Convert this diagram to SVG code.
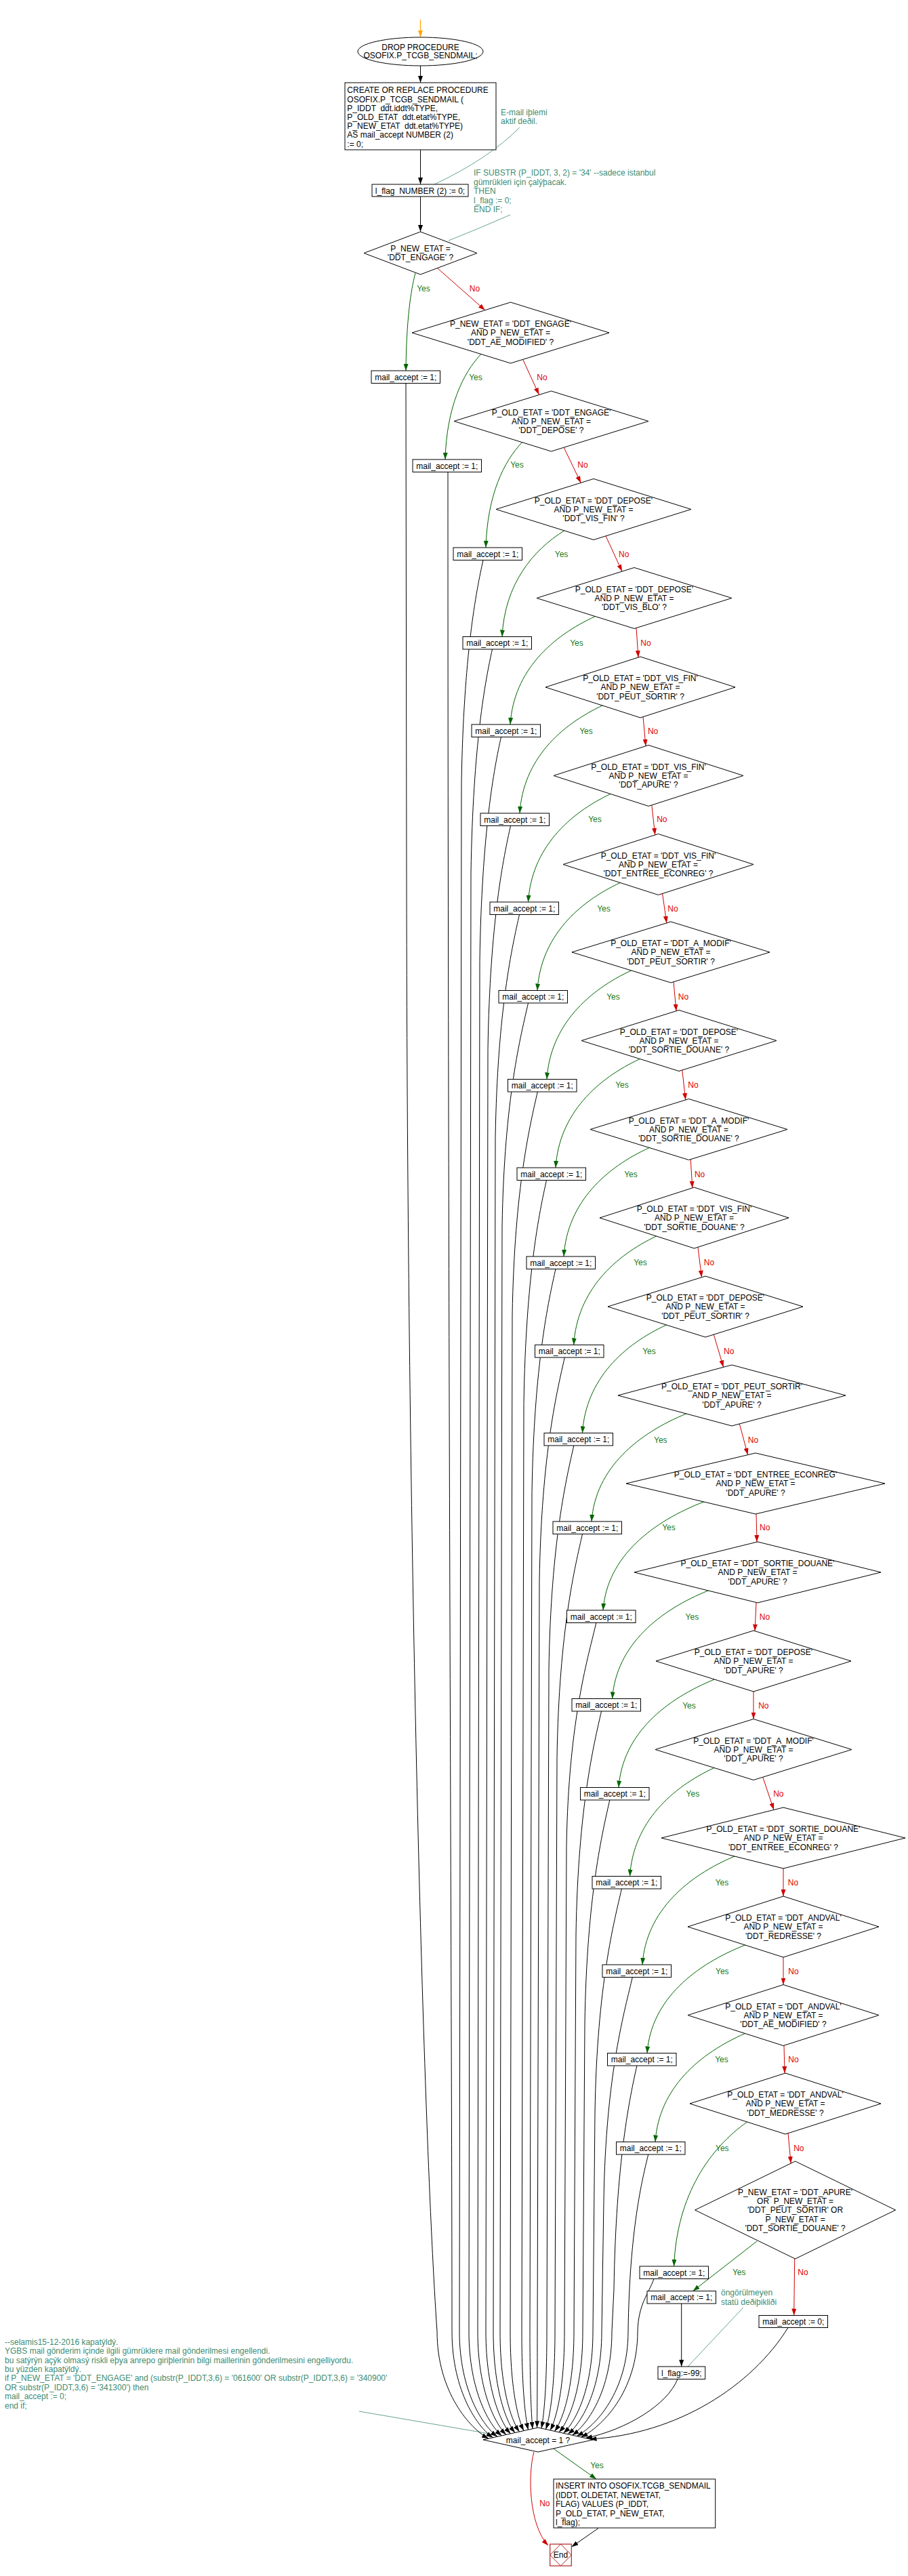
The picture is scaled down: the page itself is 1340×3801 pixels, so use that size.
<svg xmlns="http://www.w3.org/2000/svg" width="1340" height="3801" viewBox="0 0 1340 3801">
<defs>
<style>
.t{font-family:"Liberation Sans",Arial,sans-serif;font-size:12px;fill:#000}
.m{text-anchor:middle}
.c{font-family:"Liberation Sans",Arial,sans-serif;font-size:12px;fill:#408c70}
.n{fill:#fff;stroke:#000;stroke-width:1}
.e{fill:none;stroke:#000;stroke-width:1}
.y{fill:none;stroke:#006400;stroke-width:1}
.r{fill:none;stroke:#d00000;stroke-width:1}
.cl{fill:none;stroke:#408c70;stroke-width:0.8}
.yt{font-family:"Liberation Sans",Arial,sans-serif;font-size:12px;fill:#1a7a1a;text-anchor:middle}
.rt{font-family:"Liberation Sans",Arial,sans-serif;font-size:12px;fill:#e00000;text-anchor:middle}
</style>
<marker id="ab" markerUnits="userSpaceOnUse" markerWidth="10" markerHeight="7" refX="10" refY="3.5" orient="auto"><path d="M0,0 L10,3.5 L0,7 z" fill="#000"/></marker>
<marker id="ag" markerUnits="userSpaceOnUse" markerWidth="10" markerHeight="7" refX="10" refY="3.5" orient="auto"><path d="M0,0 L10,3.5 L0,7 z" fill="#006400"/></marker>
<marker id="ar" markerUnits="userSpaceOnUse" markerWidth="10" markerHeight="7" refX="10" refY="3.5" orient="auto"><path d="M0,0 L10,3.5 L0,7 z" fill="#d00000"/></marker>
<marker id="ao" markerUnits="userSpaceOnUse" markerWidth="10" markerHeight="7" refX="10" refY="3.5" orient="auto"><path d="M0,0 L10,3.5 L0,7 z" fill="#ffa500"/></marker>
</defs>
<rect width="1340" height="3801" fill="#fff"/>

<g id="connectors">
<path d="M620.5,29 L620.5,55" fill="none" stroke="#ffa500" stroke-width="1.2" marker-end="url(#ao)"/>
<path class="e" d="M620.5,97 L620.5,122" marker-end="url(#ab)"/>
<path class="e" d="M620.5,221 L620.5,272" marker-end="url(#ab)"/>
<path class="e" d="M620.5,290 L620.5,342" marker-end="url(#ab)"/>
<path class="cl" d="M767,188 Q720,235 641,272"/>
<path class="cl" d="M753,317 Q710,336 662,355"/>
<path class="cl" d="M530,3558 L720,3590.7"/>
<path class="cl" d="M1096.7,3405 L1015,3492"/>
<g marker-end="url(#ag)">
<path class="y" d="M613,403 C606,428.9 599.6,475 599,547"/>
<path class="y" d="M709.9,522.5 C683.4,550.5 659.1,600.3 657,678"/>
<path class="y" d="M770.5,652.7 C743.7,680.6 719.1,730.3 717,808"/>
<path class="y" d="M832.8,783 C786.9,811.3 744.7,861.5 741,939.5"/>
<path class="y" d="M878.4,909.5 C815.7,938.2 758,989.3 753,1069"/>
<path class="y" d="M889,1041 C828,1069.6 771.9,1120.5 767,1200"/>
<path class="y" d="M901,1171.5 C840.3,1200.2 784.4,1251.3 779.5,1331"/>
<path class="y" d="M915.3,1302.5 C854.2,1331 797.9,1381.8 793,1461.5"/>
<path class="y" d="M931.6,1432 C869.3,1460.9 812,1512.3 807,1592.5"/>
<path class="y" d="M944.4,1562.5 C882.2,1591.4 825,1642.8 820,1723"/>
<path class="y" d="M958.3,1693.5 C895.2,1722.3 837,1773.6 832,1854"/>
<path class="y" d="M968.7,1824 C907.7,1852.9 851.6,1904.3 846.7,1984.5"/>
<path class="y" d="M983.4,1955 C921.5,1983.6 864.5,2034.5 859.5,2114.5"/>
<path class="y" d="M1012.8,2086 C942.9,2114.6 878.6,2165.5 873,2245"/>
<path class="y" d="M1038.6,2216 C964.3,2244.8 895.9,2296 890,2376"/>
<path class="y" d="M1045.2,2347 C974.4,2375.6 909.3,2426.5 903.6,2506.5"/>
<path class="y" d="M1054.4,2478 C983.7,2506.7 918.7,2557.8 913,2637.5"/>
<path class="y" d="M1054,2608.5 C991.8,2637.4 934.5,2688.8 929.5,2768.5"/>
<path class="y" d="M1084,2739 C1016,2767.8 953.4,2819 948,2899"/>
<path class="y" d="M1099.6,2870 C1027.3,2898.6 960.8,2949.5 955,3029.5"/>
<path class="y" d="M1099.6,3000.5 C1033.3,3029.3 972.3,3080.6 967,3160.5"/>
<path class="y" d="M1102.6,3131 C1048.6,3169.3 998.9,3237.5 994.6,3344"/>
<path class="y" d="M1117,3307 L1022.7,3380.5"/>
<path class="y" d="M816.7,3613 L880,3658"/>
</g>
<g marker-end="url(#ar)">
<path class="r" d="M645.5,395.6 L715.8,457.7"/>
<path class="r" d="M771.6,530.4 L795.4,582.2"/>
<path class="r" d="M832.3,660.6 L857.2,712.4"/>
<path class="r" d="M894,790.9 L918,843.1"/>
<path class="r" d="M939,926.6 L942,970"/>
<path class="r" d="M949,1057.7 L953,1100.8"/>
<path class="r" d="M961.8,1188 L966.7,1232"/>
<path class="r" d="M977.6,1318.5 L983.8,1361.9"/>
<path class="r" d="M994,1448.8 L998,1491.8"/>
<path class="r" d="M1006.8,1579 L1011.7,1623"/>
<path class="r" d="M1019.2,1710.7 L1021.8,1752.9"/>
<path class="r" d="M1029.9,1840.2 L1035.5,1884.7"/>
<path class="r" d="M1053.3,1969.2 L1067.6,2017.3"/>
<path class="r" d="M1091.3,2101 L1103.6,2146.7"/>
<path class="r" d="M1116,2233.8 L1117,2275.2"/>
<path class="r" d="M1116,2364.5 L1114,2406.6"/>
<path class="r" d="M1112,2496 L1112,2536.5"/>
<path class="r" d="M1125.7,2622.2 L1142,2670.5"/>
<path class="r" d="M1156,2757 L1156,2798"/>
<path class="r" d="M1156,2888 L1156,2928.5"/>
<path class="r" d="M1157,3018.5 L1158,3059"/>
<path class="r" d="M1163,3147.7 L1167.2,3192.1"/>
<path class="r" d="M1172.7,3333 L1171.7,3416.5"/>
<path class="r" d="M788,3618 C779,3650 780,3725 809,3756"/>
</g>
<g marker-end="url(#ab)">
<path class="e" d="M599,565.5 L600,1300 C601,2300 625,3150 645,3440 C645,3530 694.4,3584.2 721,3598.2"/>
<path class="e" d="M661,696.5 C661,2000 667,3000 667,3440 C667,3530 706.3,3582.8 727.5,3596.8"/>
<path class="e" d="M713,826.5 C703,871.5 684,966.5 681,1156.5 L678,3440 C678,3530 714.4,3581.3 734,3595.3"/>
<path class="e" d="M726.5,958 C716.5,1003 698,1098 695,1288 L692,3440 C692,3530 723.5,3579.9 740.5,3593.9"/>
<path class="e" d="M739.5,1087.5 C729.5,1132.5 711,1227.5 708,1417.5 L705,3440 C705,3530 732.3,3578.4 747,3592.4"/>
<path class="e" d="M753.5,1218.5 C743.5,1263.5 723,1358.5 720,1548.5 L717,3440 C717,3530 740.7,3577 753.5,3591"/>
<path class="e" d="M766.5,1349.5 C756.5,1394.5 734,1489.5 731,1679.5 L728,3440 C728,3530 748.8,3575.6 760,3589.6"/>
<path class="e" d="M779.5,1480 C769.5,1525 744,1620 741,1810 L738,3440 C738,3530 756.5,3574.1 766.5,3588.1"/>
<path class="e" d="M793.3,1611 C783.3,1656 759,1751 756,1941 L753,3440 C753,3530 766,3572.7 773,3586.7"/>
<path class="e" d="M806.5,1741.5 C796.5,1786.5 776,1881.5 773,2071.5 L770,3440 C770,3530 776.2,3571.2 779.5,3585.2"/>
<path class="e" d="M820,1872.5 C810,1917.5 788,2012.5 785,2202.5 L782,3440 C782,3530 784.6,3569.8 786,3583.8"/>
<path class="e" d="M833.3,2003 C823.3,2048 799,2143 796,2333 L793,3440 C793,3530 792.7,3568.3 792.5,3582.3"/>
<path class="e" d="M846.8,2133 C836.8,2178 813,2273 810,2463 L807,3440 C807,3530 801.8,3569.1 799,3583.1"/>
<path class="e" d="M859.5,2263.5 C849.5,2308.5 825,2403.5 822,2593.5 L819,3440 C819,3530 810.2,3570.5 805.5,3584.5"/>
<path class="e" d="M879.8,2394.5 C869.8,2439.5 839,2534.5 836,2724.5 L833,3440 C833,3530 819.4,3572 812,3586"/>
<path class="e" d="M887.5,2525 C877.5,2570 853,2665 850,2855 L847,3440 C847,3530 828.5,3573.4 818.5,3587.4"/>
<path class="e" d="M899.8,2656 C889.8,2701 866,2796 863,2986 L860,3440 C860,3530 837.3,3574.9 825,3588.9"/>
<path class="e" d="M917.4,2787 C907.4,2832 881,2927 878,3117 L875,3440 C875,3530 846.7,3576.3 831.5,3590.3"/>
<path class="e" d="M933.3,2917.5 C923.3,2962.5 894,3057.5 891,3247.5 L888,3440 C888,3530 855.5,3577.8 838,3591.8"/>
<path class="e" d="M939.9,3048 C929.9,3093 909,3188 906,3378 L903,3440 C903,3530 865,3579.2 844.5,3593.2"/>
<path class="e" d="M956.7,3179 C948,3215 929,3290 927,3440 C927,3530 877.6,3580.7 851,3594.7"/>
<path class="e" d="M965,3362.5 C957,3385 942,3400 941,3440 C941,3530 886.7,3582.1 857.5,3596.1"/>
<path class="e" d="M1000,3510.5 C985,3548 925,3585 864,3597.6"/>
<path class="e" d="M1163,3434.5 C1110,3520 1000,3592 870.5,3599"/>
<path class="e" d="M1005.7,3399 L1005.7,3492"/>
<path class="e" d="M883,3730.5 L843.5,3758"/>
</g>
<text class="yt" x="625" y="430.3">Yes</text><text class="rt" x="700.5" y="430.3">No</text>
<text class="yt" x="702" y="561.3">Yes</text><text class="rt" x="800" y="561.3">No</text>
<text class="yt" x="763" y="690.3">Yes</text><text class="rt" x="860" y="690.3">No</text>
<text class="yt" x="828.6" y="821.9">Yes</text><text class="rt" x="920.7" y="821.9">No</text>
<text class="yt" x="851" y="952.8">Yes</text><text class="rt" x="953" y="952.8">No</text>
<text class="yt" x="865" y="1083.3">Yes</text><text class="rt" x="963.6" y="1083.3">No</text>
<text class="yt" x="878" y="1213.3">Yes</text><text class="rt" x="976.8" y="1213.3">No</text>
<text class="yt" x="891" y="1345">Yes</text><text class="rt" x="993" y="1345">No</text>
<text class="yt" x="905" y="1475">Yes</text><text class="rt" x="1008.5" y="1475">No</text>
<text class="yt" x="918" y="1605.3">Yes</text><text class="rt" x="1023" y="1605.3">No</text>
<text class="yt" x="931" y="1736.8">Yes</text><text class="rt" x="1032.6" y="1736.8">No</text>
<text class="yt" x="945" y="1866.8">Yes</text><text class="rt" x="1046.4" y="1866.8">No</text>
<text class="yt" x="958" y="1997.9">Yes</text><text class="rt" x="1075.7" y="1997.9">No</text>
<text class="yt" x="974.8" y="2128.9">Yes</text><text class="rt" x="1111.5" y="2128.9">No</text>
<text class="yt" x="987" y="2258.3">Yes</text><text class="rt" x="1128.7" y="2258.3">No</text>
<text class="yt" x="1021.4" y="2390">Yes</text><text class="rt" x="1128.5" y="2390">No</text>
<text class="yt" x="1017" y="2520.7">Yes</text><text class="rt" x="1126.8" y="2520.7">No</text>
<text class="yt" x="1022.4" y="2651.1">Yes</text><text class="rt" x="1148.8" y="2651.1">No</text>
<text class="yt" x="1065.5" y="2782.2">Yes</text><text class="rt" x="1170.5" y="2782.2">No</text>
<text class="yt" x="1065.8" y="2912.9">Yes</text><text class="rt" x="1170.9" y="2912.9">No</text>
<text class="yt" x="1065" y="3043.3">Yes</text><text class="rt" x="1170.9" y="3043.3">No</text>
<text class="yt" x="1065.8" y="3173.9">Yes</text><text class="rt" x="1178.8" y="3173.9">No</text>
<text class="yt" x="1090.7" y="3357.3">Yes</text><text class="rt" x="1185" y="3357.3">No</text>
<text class="yt" x="881" y="3642.3">Yes</text><text class="rt" x="803.8" y="3698.3">No</text>
</g>

<g id="start">
<ellipse class="n" cx="620.5" cy="76" rx="92.5" ry="21"/>
<text class="t m" x="620.5" y="74">DROP PROCEDURE</text>
<text class="t m" x="620.5" y="86.3">OSOFIX.P_TCGB_SENDMAIL;</text>
</g>
<g id="create">
<rect class="n" x="509" y="122" width="223" height="99"/>
<text class="t" x="512.3" y="137.3">CREATE OR REPLACE PROCEDURE</text>
<text class="t" x="512.3" y="150.5">OSOFIX.P_TCGB_SENDMAIL (</text>
<text class="t" x="512.3" y="163.7" xml:space="preserve">P_IDDT  ddt.iddt%TYPE,</text>
<text class="t" x="512.3" y="176.9" xml:space="preserve">P_OLD_ETAT  ddt.etat%TYPE,</text>
<text class="t" x="512.3" y="190.1" xml:space="preserve">P_NEW_ETAT  ddt.etat%TYPE)</text>
<text class="t" x="512.3" y="203.3">AS mail_accept NUMBER (2)</text>
<text class="t" x="512.3" y="216.5">:= 0;</text>
</g>
<g id="lflag0">
<rect class="n" x="549" y="272" width="142" height="18"/>
<text class="t m" x="620" y="286.3" xml:space="preserve">l_flag  NUMBER (2) := 0;</text>
</g>
<g id="comment1">
<text class="c" x="739" y="170.3">E-mail iþlemi</text>
<text class="c" x="739" y="183.3">aktif deðil.</text>
</g>
<g id="comment2">
<text class="c" x="699" y="258.8">IF SUBSTR (P_IDDT, 3, 2) = '34' --sadece istanbul</text>
<text class="c" x="699" y="272.8">gümrükleri için çalýþacak.</text>
<text class="c" x="699" y="286.3">THEN</text>
<text class="c" x="699" y="299.6">l_flag := 0;</text>
<text class="c" x="699" y="313">END IF;</text>
</g>

<g id="d1"><polygon class="n" points="620.5,342 704,373.5 620.5,405 537,373.5"/>
<text class="t m" x="620.5" y="371.3">P_NEW_ETAT =</text><text class="t m" x="620.5" y="384.3">'DDT_ENGAGE' ?</text></g>
<g id="d2"><polygon class="n" points="753.5,446 899,491 753.5,536 608,491"/>
<text class="t m" x="753.5" y="482">P_NEW_ETAT = 'DDT_ENGAGE'</text><text class="t m" x="753.5" y="495.3">AND P_NEW_ETAT =</text><text class="t m" x="753.5" y="508.6">'DDT_AE_MODIFIED' ?</text></g>
<g id="d3"><polygon class="n" points="813.5,577 957,621.5 813.5,666 670,621.5"/>
<text class="t m" x="813.5" y="612.5">P_OLD_ETAT = 'DDT_ENGAGE'</text><text class="t m" x="813.5" y="625.8">AND P_NEW_ETAT =</text><text class="t m" x="813.5" y="639.1">'DDT_DEPOSE' ?</text></g>
<g id="d4"><polygon class="n" points="876,706.5 1020,751.5 876,796.5 732,751.5"/>
<text class="t m" x="876" y="742.5">P_OLD_ETAT = 'DDT_DEPOSE'</text><text class="t m" x="876" y="755.8">AND P_NEW_ETAT =</text><text class="t m" x="876" y="769.1">'DDT_VIS_FIN' ?</text></g>
<g id="d5"><polygon class="n" points="936,837.5 1080,882.5 936,927.5 792,882.5"/>
<text class="t m" x="936" y="873.5">P_OLD_ETAT = 'DDT_DEPOSE'</text><text class="t m" x="936" y="886.8">AND P_NEW_ETAT =</text><text class="t m" x="936" y="900.1">'DDT_VIS_BLO' ?</text></g>
<g id="d6"><polygon class="n" points="945,969 1085,1014 945,1059 805,1014"/>
<text class="t m" x="945" y="1005">P_OLD_ETAT = 'DDT_VIS_FIN'</text><text class="t m" x="945" y="1018.3">AND P_NEW_ETAT =</text><text class="t m" x="945" y="1031.6">'DDT_PEUT_SORTIR' ?</text></g>
<g id="d7"><polygon class="n" points="957,1099.5 1097,1144.5 957,1189.5 817,1144.5"/>
<text class="t m" x="957" y="1135.5">P_OLD_ETAT = 'DDT_VIS_FIN'</text><text class="t m" x="957" y="1148.8">AND P_NEW_ETAT =</text><text class="t m" x="957" y="1162.1">'DDT_APURE' ?</text></g>
<g id="d8"><polygon class="n" points="971.5,1230.5 1112,1275.5 971.5,1320.5 831,1275.5"/>
<text class="t m" x="971.5" y="1266.5">P_OLD_ETAT = 'DDT_VIS_FIN'</text><text class="t m" x="971.5" y="1279.8">AND P_NEW_ETAT =</text><text class="t m" x="971.5" y="1293.1">'DDT_ENTREE_ECONREG' ?</text></g>
<g id="d9"><polygon class="n" points="990,1360 1136,1405 990,1450 844,1405"/>
<text class="t m" x="990" y="1396">P_OLD_ETAT = 'DDT_A_MODIF'</text><text class="t m" x="990" y="1409.3">AND P_NEW_ETAT =</text><text class="t m" x="990" y="1422.6">'DDT_PEUT_SORTIR' ?</text></g>
<g id="d10"><polygon class="n" points="1002,1490.5 1146,1535.5 1002,1580.5 858,1535.5"/>
<text class="t m" x="1002" y="1526.5">P_OLD_ETAT = 'DDT_DEPOSE'</text><text class="t m" x="1002" y="1539.8">AND P_NEW_ETAT =</text><text class="t m" x="1002" y="1553.1">'DDT_SORTIE_DOUANE' ?</text></g>
<g id="d11"><polygon class="n" points="1016.5,1621.5 1162,1666.5 1016.5,1711.5 871,1666.5"/>
<text class="t m" x="1016.5" y="1657.5">P_OLD_ETAT = 'DDT_A_MODIF'</text><text class="t m" x="1016.5" y="1670.8">AND P_NEW_ETAT =</text><text class="t m" x="1016.5" y="1684.1">'DDT_SORTIE_DOUANE' ?</text></g>
<g id="d12"><polygon class="n" points="1024.5,1752 1164,1797 1024.5,1842 885,1797"/>
<text class="t m" x="1024.5" y="1788">P_OLD_ETAT = 'DDT_VIS_FIN'</text><text class="t m" x="1024.5" y="1801.3">AND P_NEW_ETAT =</text><text class="t m" x="1024.5" y="1814.6">'DDT_SORTIE_DOUANE' ?</text></g>
<g id="d13"><polygon class="n" points="1041,1883 1185,1928 1041,1973 897,1928"/>
<text class="t m" x="1041" y="1919">P_OLD_ETAT = 'DDT_DEPOSE'</text><text class="t m" x="1041" y="1932.3">AND P_NEW_ETAT =</text><text class="t m" x="1041" y="1945.6">'DDT_PEUT_SORTIR' ?</text></g>
<g id="d14"><polygon class="n" points="1080,2014 1248,2059 1080,2104 912,2059"/>
<text class="t m" x="1080" y="2050">P_OLD_ETAT = 'DDT_PEUT_SORTIR'</text><text class="t m" x="1080" y="2063.3">AND P_NEW_ETAT =</text><text class="t m" x="1080" y="2076.6">'DDT_APURE' ?</text></g>
<g id="d15"><polygon class="n" points="1115,2144 1306,2189 1115,2234 924,2189"/>
<text class="t m" x="1115" y="2180">P_OLD_ETAT = 'DDT_ENTREE_ECONREG'</text><text class="t m" x="1115" y="2193.3">AND P_NEW_ETAT =</text><text class="t m" x="1115" y="2206.6">'DDT_APURE' ?</text></g>
<g id="d16"><polygon class="n" points="1118,2275 1300,2320 1118,2365 936,2320"/>
<text class="t m" x="1118" y="2311">P_OLD_ETAT = 'DDT_SORTIE_DOUANE'</text><text class="t m" x="1118" y="2324.3">AND P_NEW_ETAT =</text><text class="t m" x="1118" y="2337.6">'DDT_APURE' ?</text></g>
<g id="d17"><polygon class="n" points="1112,2406 1256,2451 1112,2496 968,2451"/>
<text class="t m" x="1112" y="2442">P_OLD_ETAT = 'DDT_DEPOSE'</text><text class="t m" x="1112" y="2455.3">AND P_NEW_ETAT =</text><text class="t m" x="1112" y="2468.6">'DDT_APURE' ?</text></g>
<g id="d18"><polygon class="n" points="1112,2536.5 1257,2581.5 1112,2626.5 967,2581.5"/>
<text class="t m" x="1112" y="2572.5">P_OLD_ETAT = 'DDT_A_MODIF'</text><text class="t m" x="1112" y="2585.8">AND P_NEW_ETAT =</text><text class="t m" x="1112" y="2599.1">'DDT_APURE' ?</text></g>
<g id="d19"><polygon class="n" points="1156,2667 1336,2712 1156,2757 976,2712"/>
<text class="t m" x="1156" y="2703">P_OLD_ETAT = 'DDT_SORTIE_DOUANE'</text><text class="t m" x="1156" y="2716.3">AND P_NEW_ETAT =</text><text class="t m" x="1156" y="2729.6">'DDT_ENTREE_ECONREG' ?</text></g>
<g id="d20"><polygon class="n" points="1156,2798 1297,2843 1156,2888 1015,2843"/>
<text class="t m" x="1156" y="2834">P_OLD_ETAT = 'DDT_ANDVAL'</text><text class="t m" x="1156" y="2847.3">AND P_NEW_ETAT =</text><text class="t m" x="1156" y="2860.6">'DDT_REDRESSE' ?</text></g>
<g id="d21"><polygon class="n" points="1156,2928.5 1297,2973.5 1156,3018.5 1015,2973.5"/>
<text class="t m" x="1156" y="2964.5">P_OLD_ETAT = 'DDT_ANDVAL'</text><text class="t m" x="1156" y="2977.8">AND P_NEW_ETAT =</text><text class="t m" x="1156" y="2991.1">'DDT_AE_MODIFIED' ?</text></g>
<g id="d22"><polygon class="n" points="1159,3059 1300,3104 1159,3149 1018,3104"/>
<text class="t m" x="1159" y="3095">P_OLD_ETAT = 'DDT_ANDVAL'</text><text class="t m" x="1159" y="3108.3">AND P_NEW_ETAT =</text><text class="t m" x="1159" y="3121.6">'DDT_MEDRESSE' ?</text></g>
<g id="d23"><polygon class="n" points="1173.6,3189 1321.6,3261 1173.6,3333 1025.6,3261"/>
<text class="t m" x="1173.6" y="3238.5">P_NEW_ETAT = 'DDT_APURE'</text>
<text class="t m" x="1173.6" y="3251.9" xml:space="preserve">OR  P_NEW_ETAT =</text>
<text class="t m" x="1173.6" y="3265.3">'DDT_PEUT_SORTIR' OR</text>
<text class="t m" x="1173.6" y="3278.7">P_NEW_ETAT =</text>
<text class="t m" x="1173.6" y="3292.1">'DDT_SORTIE_DOUANE' ?</text></g>

<g id="b1"><rect class="n" x="548" y="547" width="101.5" height="18.5"/><text class="t m" x="598.8" y="560.5">mail_accept := 1;</text></g>
<g id="b2"><rect class="n" x="609" y="678" width="101.5" height="18.5"/><text class="t m" x="659.8" y="691.5">mail_accept := 1;</text></g>
<g id="b3"><rect class="n" x="669" y="808" width="101.5" height="18.5"/><text class="t m" x="719.8" y="821.5">mail_accept := 1;</text></g>
<g id="b4"><rect class="n" x="683" y="939.5" width="101.5" height="18.5"/><text class="t m" x="733.8" y="953">mail_accept := 1;</text></g>
<g id="b5"><rect class="n" x="696" y="1069" width="101.5" height="18.5"/><text class="t m" x="746.8" y="1082.5">mail_accept := 1;</text></g>
<g id="b6"><rect class="n" x="709" y="1200" width="101.5" height="18.5"/><text class="t m" x="759.8" y="1213.5">mail_accept := 1;</text></g>
<g id="b7"><rect class="n" x="723" y="1331" width="101.5" height="18.5"/><text class="t m" x="773.8" y="1344.5">mail_accept := 1;</text></g>
<g id="b8"><rect class="n" x="736" y="1461.5" width="101.5" height="18.5"/><text class="t m" x="786.8" y="1475">mail_accept := 1;</text></g>
<g id="b9"><rect class="n" x="749.5" y="1592.5" width="101.5" height="18.5"/><text class="t m" x="800.3" y="1606">mail_accept := 1;</text></g>
<g id="b10"><rect class="n" x="763" y="1723" width="101.5" height="18.5"/><text class="t m" x="813.8" y="1736.5">mail_accept := 1;</text></g>
<g id="b11"><rect class="n" x="777" y="1854" width="101.5" height="18.5"/><text class="t m" x="827.8" y="1867.5">mail_accept := 1;</text></g>
<g id="b12"><rect class="n" x="789.5" y="1984.5" width="101.5" height="18.5"/><text class="t m" x="840.3" y="1998">mail_accept := 1;</text></g>
<g id="b13"><rect class="n" x="803" y="2114.5" width="101.5" height="18.5"/><text class="t m" x="853.8" y="2128">mail_accept := 1;</text></g>
<g id="b14"><rect class="n" x="816" y="2245" width="101.5" height="18.5"/><text class="t m" x="866.8" y="2258.5">mail_accept := 1;</text></g>
<g id="b15"><rect class="n" x="836.5" y="2376" width="101.5" height="18.5"/><text class="t m" x="887.3" y="2389.5">mail_accept := 1;</text></g>
<g id="b16"><rect class="n" x="844" y="2506.5" width="101.5" height="18.5"/><text class="t m" x="894.8" y="2520">mail_accept := 1;</text></g>
<g id="b17"><rect class="n" x="856.5" y="2637.5" width="101.5" height="18.5"/><text class="t m" x="907.3" y="2651">mail_accept := 1;</text></g>
<g id="b18"><rect class="n" x="874" y="2768.5" width="101.5" height="18.5"/><text class="t m" x="924.8" y="2782">mail_accept := 1;</text></g>
<g id="b19"><rect class="n" x="889" y="2899" width="101.5" height="18.5"/><text class="t m" x="939.8" y="2912.5">mail_accept := 1;</text></g>
<g id="b20"><rect class="n" x="896.5" y="3029.5" width="101.5" height="18.5"/><text class="t m" x="947.3" y="3043">mail_accept := 1;</text></g>
<g id="b21"><rect class="n" x="909.5" y="3160.5" width="101.5" height="18.5"/><text class="t m" x="960.3" y="3174">mail_accept := 1;</text></g>
<g id="b22"><rect class="n" x="944" y="3344" width="101.5" height="18.5"/><text class="t m" x="994.8" y="3357.5">mail_accept := 1;</text></g>
<g id="b23"><rect class="n" x="955" y="3380.5" width="101.5" height="18.5"/><text class="t m" x="1005.8" y="3394">mail_accept := 1;</text></g>
<g id="b0"><rect class="n" x="1120" y="3416.5" width="101.5" height="18"/><text class="t m" x="1170.8" y="3429.8">mail_accept := 0;</text></g>
<g id="lflag99"><rect class="n" x="971" y="3492" width="69.7" height="18.5"/><text class="t m" x="1005.8" y="3505.5">l_flag:=-99;</text></g>
<g id="comment4">
<text class="c" x="1064" y="3387">öngörülmeyen</text>
<text class="c" x="1064" y="3401">statü deðiþikliði</text>
</g>
<g id="comment3">
<text class="c" x="7" y="3459.8">--selamis15-12-2016 kapatýldý.</text>
<text class="c" x="7" y="3473.2">YGBS mail gönderim içinde ilgili gümrüklere mail gönderilmesi engellendi.</text>
<text class="c" x="7" y="3486.6">bu satýrýn açýk olmasý riskli eþya anrepo giriþlerinin bilgi maillerinin gönderilmesini engelliyordu.</text>
<text class="c" x="7" y="3500">bu yüzden kapatýldý.</text>
<text class="c" x="7" y="3513.4">if P_NEW_ETAT = 'DDT_ENGAGE' and (substr(P_IDDT,3,6) = '061600' OR substr(P_IDDT,3,6) = '340900'</text>
<text class="c" x="7" y="3526.8">OR substr(P_IDDT,3,6) = '341300') then</text>
<text class="c" x="7" y="3540.2">mail_accept := 0;</text>
<text class="c" x="7" y="3553.6">end if;</text>
</g>
<g id="merge"><polygon class="n" points="794,3582 875,3600 794,3618 713,3600"/><text class="t m" x="794" y="3605">mail_accept = 1 ?</text></g>
<g id="insert"><rect class="n" x="817" y="3658" width="238.7" height="72"/>
<text class="t" x="820" y="3672.3">INSERT INTO OSOFIX.TCGB_SENDMAIL</text>
<text class="t" x="820" y="3686">(IDDT, OLDETAT, NEWETAT,</text>
<text class="t" x="820" y="3699.3">FLAG) VALUES (P_IDDT,</text>
<text class="t" x="820" y="3713">P_OLD_ETAT, P_NEW_ETAT,</text>
<text class="t" x="820" y="3726.3">l_flag);</text></g>
<g id="end"><rect x="811.7" y="3754" width="31.6" height="32" fill="#fff" stroke="#b22222" stroke-width="1.2"/>
<polygon points="827.5,3754 843.3,3770 827.5,3786 811.7,3770" fill="none" stroke="#b22222" stroke-width="1"/>
<text class="t m" x="827.5" y="3774.3">End</text></g>
</svg>
